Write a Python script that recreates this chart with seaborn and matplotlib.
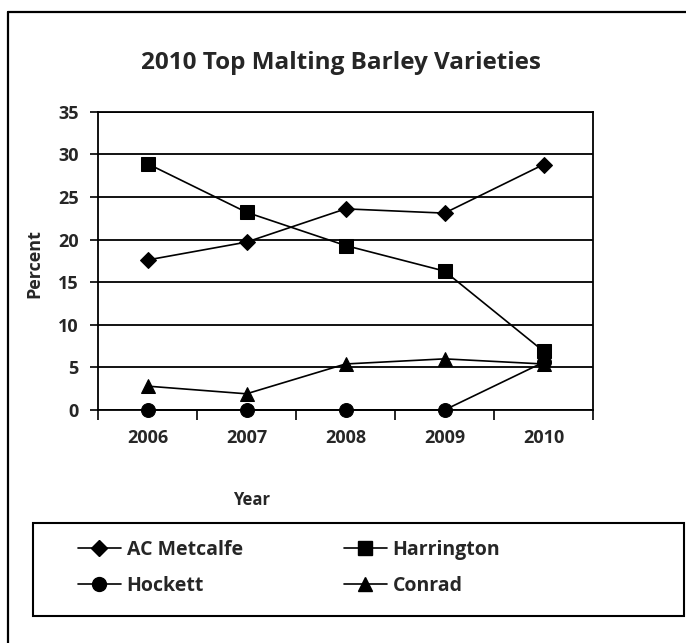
import numpy as np
import pandas as pd
import seaborn as sns
import matplotlib.pyplot as plt
from matplotlib.lines import Line2D
from matplotlib.patches import Rectangle
from matplotlib.ticker import FixedLocator

years = [2006, 2007, 2008, 2009, 2010]
ac_metcalfe = [17.6, 19.7, 23.6, 23.1, 28.8]
harrington = [28.9, 23.2, 19.3, 16.3, 6.9]
hockett = [0.0, 0.0, 0.0, 0.0, 5.6]
conrad = [2.8, 1.9, 5.4, 6.0, 5.4]
varieties = ['AC Metcalfe', 'Harrington', 'Hockett', 'Conrad']

df = pd.DataFrame({'Year': years * 4,
                   'Percent': ac_metcalfe + harrington + hockett + conrad,
                   'Variety': np.repeat(varieties, len(years))})

sns.set_theme(style='white')
plt.rcParams['font.family'] = ['Open Sans', 'DejaVu Sans']
plt.rcParams['font.weight'] = 'bold'

fig = plt.figure(figsize=(6.86, 6.43), dpi=100)
ax = fig.add_axes([98 / 686, 1 - 410 / 643, 495 / 686, 298.3 / 643])

markers = {'AC Metcalfe': 'D', 'Harrington': 's', 'Hockett': 'o', 'Conrad': '^'}
sizes = {'AC Metcalfe': 8, 'Harrington': 10, 'Hockett': 10, 'Conrad': 10}
sns.lineplot(data=df, x='Year', y='Percent', style='Variety', markers=markers,
             dashes=False, color='black', linewidth=1.2, markersize=10,
             markeredgecolor='black', ax=ax, legend=False)
for line, v in zip(ax.lines, varieties):
    line.set_clip_on(False)
    line.set_markersize(sizes[v])
    line.set_zorder(5)

ax.set_xlim(2005.5, 2010.5)
ax.set_ylim(0, 35)
ax.set_yticks(range(0, 36, 5))
ax.set_xticks(years)
ax.xaxis.set_minor_locator(FixedLocator([2005.5 + k for k in range(6)]))
ax.tick_params(axis='x', which='major', length=0, pad=14, labelsize=13)
ax.tick_params(axis='x', which='minor', length=7, width=1.2, color='black', direction='out', bottom=True)
ax.tick_params(axis='y', length=6, width=1.2, color='black', direction='out', left=True, labelsize=13, pad=8)
for lbl in ax.get_xticklabels() + ax.get_yticklabels():
    lbl.set_fontweight('bold')

ax.yaxis.grid(True, color='black', linewidth=1.3)
ax.set_axisbelow(True)
for s in ax.spines.values():
    s.set_color('black')
    s.set_linewidth(1.3)

ax.set_xlabel('Year', fontsize=12, fontweight='bold')
ax.xaxis.set_label_coords(0.31, -0.27)
ax.set_ylabel('Percent', fontsize=13, fontweight='bold')
ax.yaxis.set_label_coords(-0.11, 0.49)

fig.text(0.497, 1 - 63 / 643, '2010 Top Malting Barley Varieties', ha='center', va='center',
         fontsize=17.5, fontweight='bold')

# legend box spans nearly the full width, entries sit to the left
fig.add_artist(Rectangle((33 / 686, 1 - 616 / 643), 651 / 686, 93 / 643, transform=fig.transFigure,
                         fill=False, edgecolor='black', linewidth=1.5))
handles = [Line2D([], [], color='black', linewidth=1.2, marker=markers[v], markersize=sizes[v],
                  label=v) for v in varieties]
order = [0, 2, 1, 3]
leg = fig.legend([handles[i] for i in order], [varieties[i] for i in order], ncol=2,
                 loc='center left', bbox_to_anchor=(78 / 686, 1 - 568 / 643),
                 frameon=False, prop={'weight': 'bold', 'size': 14},
                 handlelength=2.2, handletextpad=0.3, columnspacing=5.2, borderpad=0,
                 labelspacing=0.85, borderaxespad=0)

fig.add_artist(Line2D([8 / 686, 8 / 686], [0, 1 - 12 / 643], color='black', linewidth=1.6,
                      transform=fig.transFigure))
fig.add_artist(Line2D([8 / 686, 1], [1 - 12 / 643, 1 - 12 / 643], color='black', linewidth=1.6,
                      transform=fig.transFigure))

fig.savefig('out.png', dpi=100)
